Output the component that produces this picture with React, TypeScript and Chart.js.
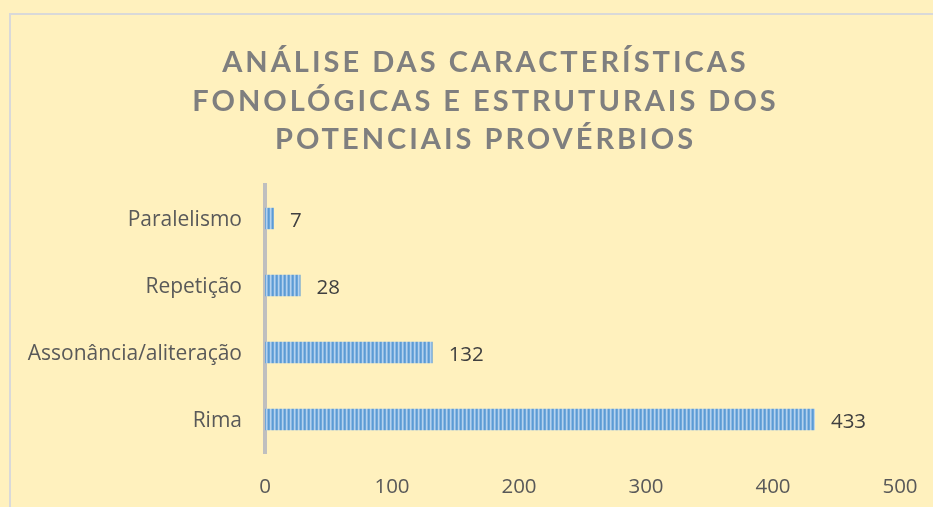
import React, { useEffect, useRef } from "react";
import { Chart, registerables } from "chart.js";

Chart.register(...registerables);

const titleLines = [
  "ANÁLISE DAS CARACTERÍSTICAS",
  "FONOLÓGICAS E ESTRUTURAIS DOS",
  "POTENCIAIS PROVÉRBIOS",
];
const categories = ["Paralelismo", "Repetição", "Assonância/aliteração", "Rima"];
const values = [7, 28, 132, 433];
const xTicks = [0, 100, 200, 300, 400, 500];

const BG = "#FFF1BE";
const TITLE_FONT = "Lato, 'Open Sans', sans-serif";
const FONT = "'Open Sans', Lato, sans-serif";

function makePattern(): CanvasPattern | string {
  const c = document.createElement("canvas");
  c.width = 4;
  c.height = 1;
  const g = c.getContext("2d");
  if (!g) return "#5B9BD5";
  const cols = ["#5B9BD5", "#6FA7DA", "#B4D2EE", "#8DB9E3"];
  cols.forEach((col, i) => {
    g.fillStyle = col;
    g.fillRect(i, 0, 1, 1);
  });
  const p = g.createPattern(c, "repeat");
  return p || "#5B9BD5";
}

const framePlugin = {
  id: "frame",
  beforeDraw(chart: any) {
    const ctx = chart.ctx as CanvasRenderingContext2D;
    ctx.save();
    ctx.fillStyle = BG;
    ctx.fillRect(0, 0, chart.width, chart.height);
    ctx.fillStyle = "#D9D9D9";
    ctx.fillRect(9, 13, chart.width - 9, 2);
    ctx.fillRect(9, 13, 2, chart.height - 13);
    ctx.restore();
  },
};

const titlePlugin = {
  id: "spacedTitle",
  afterDraw(chart: any) {
    const ctx = chart.ctx as CanvasRenderingContext2D;
    ctx.save();
    ctx.font = `bold 29px ${TITLE_FONT}`;
    ctx.fillStyle = "#7F7F7F";
    ctx.textAlign = "left";
    ctx.textBaseline = "alphabetic";
    const ls = 3;
    (ctx as any).letterSpacing = `${ls}px`;
    const cx = 484;
    const baselines = [72, 110.5, 149];
    titleLines.forEach((t, i) => {
      const w = ctx.measureText(t).width - ls;
      ctx.fillText(t, cx - w / 2, baselines[i]);
    });
    ctx.restore();
  },
};

const valueLabels = {
  id: "valueLabels",
  afterDatasetsDraw(chart: any) {
    const ctx = chart.ctx as CanvasRenderingContext2D;
    const meta = chart.getDatasetMeta(0);
    ctx.save();
    ctx.font = `20.5px ${FONT}`;
    ctx.fillStyle = "#404040";
    ctx.textAlign = "left";
    ctx.textBaseline = "middle";
    meta.data.forEach((bar: any, i: number) => {
      ctx.fillText(String(values[i]), bar.x + 16, bar.y + 3);
    });
    ctx.restore();
  },
};

export default function App() {
  const ref = useRef<HTMLCanvasElement>(null);
  useEffect(() => {
    if (!ref.current) return;
    const chart = new Chart(ref.current, {
      type: "bar",
      data: {
        labels: categories,
        datasets: [
          {
            data: values,
            backgroundColor: makePattern() as any,
            borderWidth: 0,
            categoryPercentage: 1,
            barPercentage: 0.32,
          },
        ],
      },
      options: {
        indexAxis: "y",
        animation: false,
        responsive: false,
        devicePixelRatio: 1,
        layout: { padding: { top: 185, right: 33, bottom: 9, left: 0 } },
        plugins: {
          legend: { display: false },
          title: { display: false },
          tooltip: { enabled: false },
        },
        scales: {
          x: {
            min: 0,
            max: 500,
            afterBuildTicks: (s: any) => {
              s.ticks = xTicks.map((v) => ({ value: v }));
            },
            afterFit: (s: any) => {
              s.height = 45;
              s.paddingLeft = 0;
              s.paddingRight = 0;
            },
            grid: { display: false, drawTicks: false },
            border: { display: false },
            ticks: {
              color: "#595959",
              font: { family: FONT, size: 20.5 },
              padding: 22,
              maxRotation: 0,
            },
          },
          y: {
            grid: { display: false, drawTicks: false },
            border: { display: true, color: "#BFBFBF", width: 4 },
            afterFit: (s: any) => {
              s.width = 265;
              s.paddingTop = 0;
              s.paddingBottom = 0;
            },
            ticks: {
              color: "#595959",
              font: { family: FONT, size: 21 },
              padding: 23,
              labelOffset: 2,
            },
          },
        },
      },
      plugins: [framePlugin, titlePlugin, valueLabels],
    });
    return () => chart.destroy();
  }, []);

  return (
    <div
      style={{
        position: "fixed",
        left: 0,
        top: 0,
        width: 933,
        height: 507,
        background: BG,
      }}
    >
      <canvas
        ref={ref}
        width={933}
        height={507}
        style={{ position: "absolute", left: 0, top: 0, width: 933, height: 507 }}
      />
    </div>
  );
}
